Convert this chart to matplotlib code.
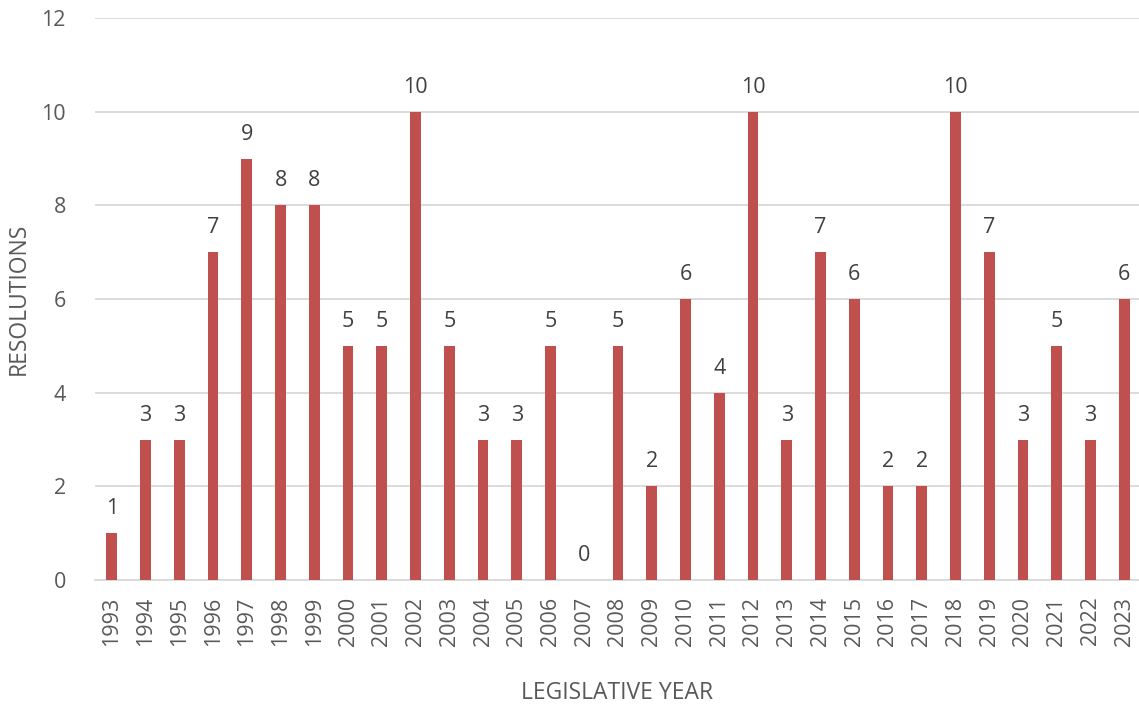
import matplotlib
matplotlib.use("Agg")
import matplotlib.pyplot as plt

years = [str(y) for y in range(1993, 2024)]
resolutions = [1, 3, 3, 7, 9, 8, 8, 5, 5, 10, 5, 3, 3, 5, 0, 5, 2, 6, 4, 10,
               3, 7, 6, 2, 2, 10, 7, 3, 5, 3, 6]
y_ticks = [0, 2, 4, 6, 8, 10, 12]

BAR_COLOR = "#C0504D"
TEXT_COLOR = "#595959"
GRID_COLOR = "#D9D9D9"

plt.rcParams["font.family"] = ["Open Sans", "DejaVu Sans"]

fig = plt.figure(figsize=(11.39, 7.04), dpi=100)
ax = fig.add_axes([95 / 1139, 124 / 704, 1046 / 1139, 562 / 704])

x = list(range(len(years)))
ax.bar(x, resolutions, width=0.32, color=BAR_COLOR, zorder=3)

for xi, v in zip(x, resolutions):
    ax.annotate(str(v), (xi, v), xytext=(0, 10), textcoords="offset points",
                ha="center", va="bottom", fontsize=15.5, color="#404040")

ax.set_xlim(-0.5, len(years) - 0.5)
ax.set_ylim(0, 12)
ax.set_yticks(y_ticks)
ax.set_xticks(x)
ax.set_xticklabels(years, rotation=90)
ax.tick_params(axis="both", length=0, labelsize=15.5, labelcolor=TEXT_COLOR)
ax.tick_params(axis="y", pad=21)
ax.tick_params(axis="x", pad=12)

ax.grid(axis="y", color=GRID_COLOR, linewidth=1.3, zorder=0)
for side in ["top", "right", "left"]:
    ax.spines[side].set_visible(False)
ax.spines["bottom"].set_color(GRID_COLOR)
ax.spines["bottom"].set_linewidth(1.3)

ax.set_ylabel("RESOLUTIONS", fontsize=16.5, color=TEXT_COLOR)
ax.yaxis.set_label_coords(-0.061, 0.5)
ax.set_xlabel("LEGISLATIVE YEAR", fontsize=16.5, color=TEXT_COLOR)
ax.xaxis.set_label_coords((617 - 95) / 1046, -0.18)

fig.savefig("out.png", dpi=100)
